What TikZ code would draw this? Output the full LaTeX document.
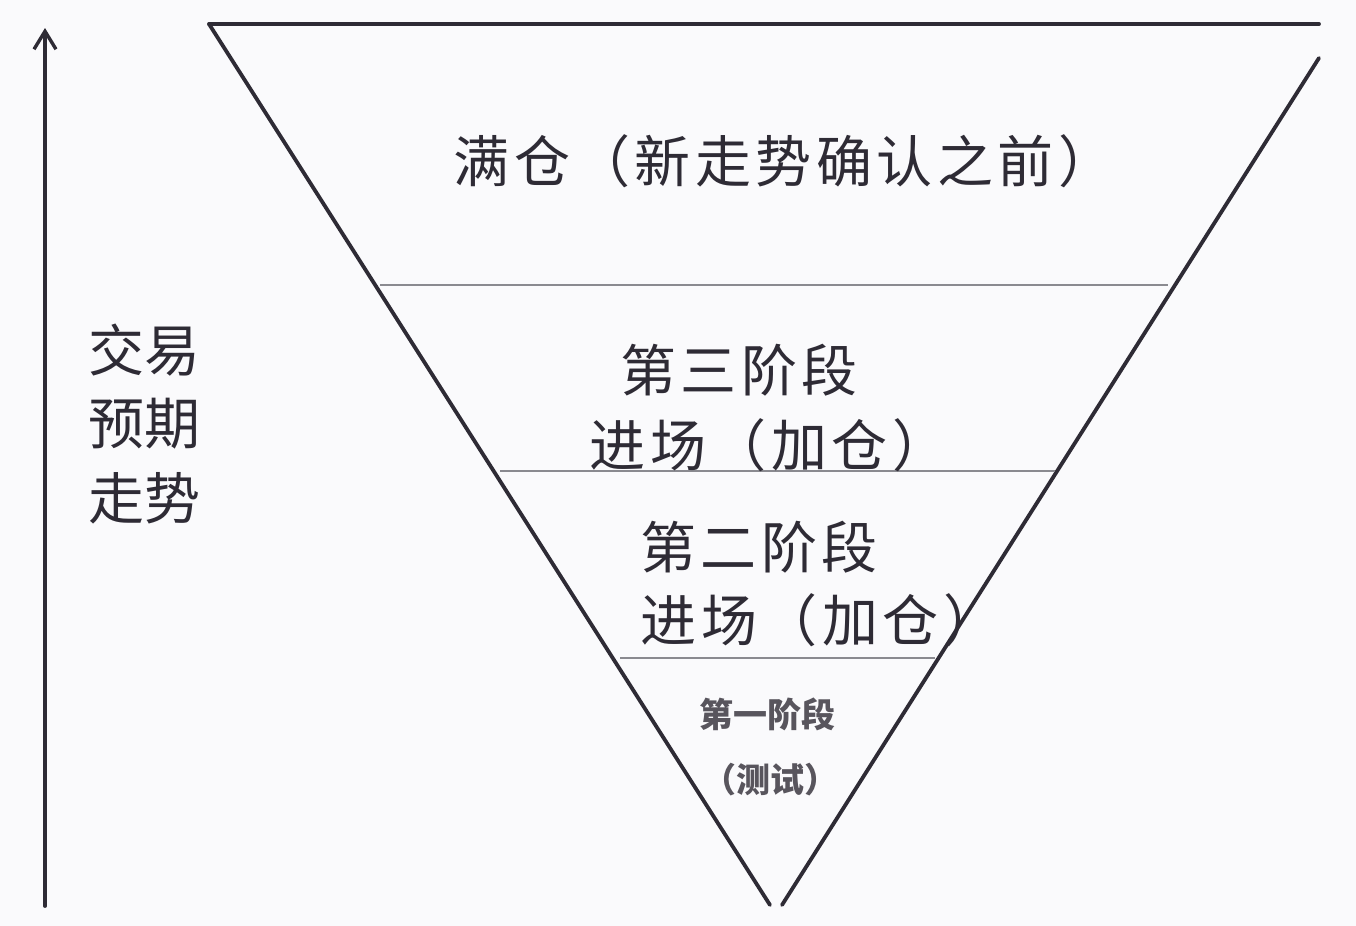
\documentclass[tikz,border=0pt]{standalone}
\usepackage{fontspec}
\newfontfamily\cjk[LetterSpace=8]{Noto Sans CJK SC}
\newfontfamily\cjkside{Noto Sans CJK SC}
\usetikzlibrary{arrows.meta}
\definecolor{ink}{HTML}{2E2B35}
\definecolor{sep}{HTML}{8A8A90}
\definecolor{bg}{HTML}{FAFAFC}
\tikzset{
  edge/.style={draw=ink, line width=1.9pt, line cap=round},
  sepline/.style={draw=sep, line width=1.2pt},
  big/.style={font=\cjk\fontsize{28pt}{34pt}\selectfont, text=ink, inner sep=0pt},
  side/.style={font=\cjkside\fontsize{28pt}{34pt}\selectfont, text=ink, inner sep=0pt},
  small/.style={font=\cjkside\bfseries\fontsize{17pt}{20pt}\selectfont, text=ink!80, inner sep=0pt},
}
\begin{document}
\begin{tikzpicture}[x=0.5pt,y=-0.5pt]
\fill[bg] (0,0) rectangle (1356,926);
\useasboundingbox (0,0) rectangle (1356,926);
% triangle corners
\coordinate (tl) at (209,24);
\coordinate (tr) at (1319,24);
\coordinate (rs) at (1319,58);
\coordinate (al) at (770,905);
\coordinate (ar) at (782,905);
\draw[edge] (tl) -- (tr);
\draw[edge] (tl) -- (al);
\draw[edge] (rs) -- (ar);
% separators
\coordinate (s1l) at (380,285); \coordinate (s1r) at (1168,285);
\coordinate (s2l) at (500,471); \coordinate (s2r) at (1055,471);
\coordinate (s3l) at (620,658); \coordinate (s3r) at (935,658);
\draw[sepline] (s1l) -- (s1r);
\draw[sepline] (s2l) -- (s2r);
\draw[sepline] (s3l) -- (s3r);
% axis arrow
\coordinate (ab) at (45,906);
\coordinate (at) at (45,28);
\draw[edge, -{Straight Barb[length=9pt,width=11pt,line width=1.7pt]}] (ab) -- (at);
% texts
\node[big] (full) at (784,161) {满仓（新走势确认之前）};
\node[big] (p3a) at (739,370) {第三阶段};
\node[big] (p3b) at (769,445) {进场（加仓）};
\node[big] (p2a) at (759,547) {第二阶段};
\node[big] (p2b) at (820,620) {进场（加仓）};
\node[small] (p1a) at (767,714) {第一阶段};
\node[small] (p1b) at (770,780) {（测试）};
\node[side] (y1) at (144,350) {交易};
\node[side] (y2) at (144,424) {预期};
\node[side] (y3) at (144,498) {走势};
\end{tikzpicture}
\end{document}
